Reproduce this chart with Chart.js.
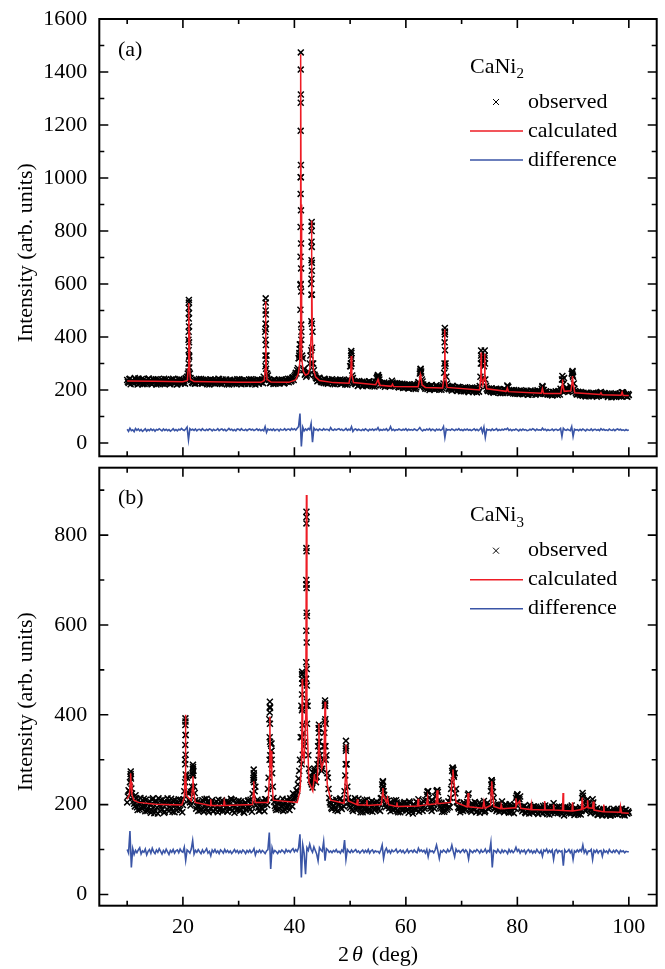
<!DOCTYPE html>
<html>
<head>
<meta charset="utf-8">
<script src="https://cdn.jsdelivr.net/npm/chart.js@4.4.1/dist/chart.umd.min.js"></script>
<style>
  body { margin: 0; background: #fff; }
  #wrap { position: relative; width: 665px; height: 969px; }
  canvas { position: absolute; left: 0; }
</style>
</head>
<body>
<div id="wrap">
  <canvas id="chartA" width="665" height="462" style="top:0"></canvas>
  <canvas id="chartB" width="665" height="507" style="top:462px"></canvas>
</div>
<script>
// scan grid shared by both patterns (2theta, deg); the *Mid arrays sit half a step later
const scanStart = 10;
const scanStep = 0.25;

// axis ticks
const xMajor = [20, 40, 60, 80, 100];
const xMinor = [10, 30, 50, 70, 90];
const yMajorA = [0, 200, 400, 600, 800, 1000, 1200, 1400, 1600];
const yMinorA = [100, 300, 500, 700, 900, 1100, 1300, 1500];
const yMajorB = [0, 200, 400, 600, 800];
const yMinorB = [100, 300, 500, 700, 900];

// ---- (a) CaNi2 ----
const obsA = [
  238,227,243,231, 236,224,240,229, 244,226,235,222, 240,231,225,242, 228,237,223,239,
  233,221,241,230, 226,239,232,222, 241,228,236,224, 231,243,225,234, 222,238,229,240,
  227,235,245,250, 390,262,238,226, 234,225,239,228, 231,242,224,235, 227,238,230,221,
  240,229,234,224, 237,226,241,230, 223,235,228,240, 232,221,238,227, 235,224,230,241,
  226,236,222,233, 239,228,234,223, 230,241,225,236, 221,233,227,238, 229,240,250,420,
  330,255,238,228, 234,223,237,229, 226,238,231,240, 233,227,240,235, 229,243,236,248,
  252,265,275,320, 372,420,320,280, 262,255,270,300, 600,420,275,252, 243,236,246,232,
  238,227,240,231, 224,237,229,241, 233,222,236,226, 230,240,224,235, 227,232,220,240,
  290,320,245,228, 222,233,218,229, 225,214,231,220, 228,217,232,223, 214,226,219,245,
  255,240,218,227, 221,212,226,215, 224,217,235,222, 226,214,221,210, 223,215,208,220,
  212,221,206,216, 209,219,213,204, 218,230,262,270, 232,214,205,217, 209,200,215,206,
  211,203,218,207, 201,214,208,225, 420,250,214,203, 210,198,213,204, 207,196,211,201,
  199,209,195,206, 202,192,208,198, 205,195,201,191, 207,215,330,245, 290,240,205,196,
  203,193,199,190, 197,204,192,200, 189,198,193,203, 198,214,196,190, 199,187,195,191,
  186,196,189,193, 184,194,188,197, 183,191,186,195, 190,182,193,186, 195,188,212,200,
  186,193,183,191, 187,179,192,184, 189,181,194,205, 240,222,195,205, 200,196,215,262,
  250,205,190,183, 191,180,187,178, 185,176,189,182, 180,188,177,186, 183,175,181,190,
  193,182,178,187, 181,174,185,179, 177,186,180,174, 183,176,181,192, 190,178,184,175,
  181
];
const obsAMid = [
  231,241,222,236, 228,245,233,221, 238,229,242,225, 223,236,230,244, 235,222,240,228,
  241,229,223,236, 232,224,243,230, 226,235,222,240, 237,228,234,221, 230,242,225,236,
  238,224,240,262, 330,245,229,236, 224,238,230,242, 237,226,239,229, 233,222,236,240,
  225,238,228,235, 231,243,224,237, 240,229,235,222, 226,239,231,236, 229,234,222,238,
  241,229,236,225, 224,237,228,240, 235,223,239,229, 232,240,224,235, 238,226,240,450,
  262,240,226,236, 229,241,224,233, 237,226,236,229, 225,238,231,243, 240,232,246,238,
  258,262,282,330, 600,330,275,258, 250,262,258,330, 650,300,258,246, 233,245,238,229,
  232,243,226,236, 240,228,234,223, 228,238,225,237, 236,223,238,229, 221,236,226,232,
  300,255,232,224, 229,215,234,222, 231,220,226,216, 221,233,219,228, 222,213,231,250,
  248,228,222,216, 228,217,224,219, 213,221,228,218, 218,226,212,224, 212,224,217,209,
  219,208,222,211, 214,205,221,210, 224,215,278,240, 221,210,218,204, 214,205,219,210,
  204,216,205,212, 210,201,216,265, 300,225,206,212, 203,216,205,211, 199,212,204,195,
  205,196,211,200, 195,206,199,210, 198,208,194,204, 194,250,300,240, 330,215,199,206,
  196,207,193,202, 205,194,203,189, 200,189,204,195, 191,212,189,199, 192,200,186,197,
  194,185,199,188, 197,186,193,182, 189,198,183,192, 196,186,199,188, 191,205,200,185,
  195,184,190,182, 183,193,186,195, 185,196,183,198, 201,245,205,196, 193,202,208,268,
  225,196,184,194, 185,193,181,190, 180,190,183,177, 186,179,190,182, 179,188,178,190,
  186,178,189,180, 187,178,183,173, 182,175,188,180, 178,187,176,192, 185,180,176,185
];
// extra observed points on the steep reflection flanks
const obsPeaksA = [
  [21.00,270],[21.02,300],[21.03,350],[21.04,420],[21.05,470],[21.06,510],[21.07,540],
  [21.08,530],[21.09,490],[21.10,440],[21.11,380],[21.12,325],[21.14,285],
  [34.80,290],[34.81,330],[34.82,390],[34.83,450],[34.84,500],[34.85,546],[34.86,530],
  [34.87,485],[34.88,430],[34.89,370],[34.90,315],[34.92,280],
  [40.85,320],[40.90,340],[40.95,355],[41.00,372],[41.06,372],[41.08,503],[41.09,597],
  [41.10,703],[41.11,815],[41.12,940],[41.12,1003],[41.13,1178],[41.14,1284],[41.14,1409],
  [41.15,1474],[41.16,1315],[41.17,1049],[41.17,1003],[41.18,878],[41.19,753],[41.20,659],
  [41.21,572],[41.22,447],[41.24,390],
  [43.02,350],[43.04,460],[43.05,560],[43.06,620],[43.07,690],[43.08,760],[43.09,800],
  [43.10,834],[43.11,820],[43.12,740],[43.13,680],[43.14,560],[43.15,450],[43.17,360],[43.20,300],
  [50.15,290],[50.18,330],[50.20,347],[50.23,340],[50.26,300],
  [54.90,250],[55.00,257],[55.20,248],
  [62.55,270],[62.65,280],[62.70,265],
  [66.92,300],[66.95,380],[66.97,420],[66.99,434],[67.01,410],[67.03,350],[67.06,290],
  [73.45,300],[73.50,349],[73.55,320],[74.10,320],[74.15,349],[74.20,300],
  [78.20,217],[84.50,215],
  [88.08,253],[88.12,240],[89.85,262],[89.90,272],[89.95,255]
];
const calcA = [
  [10,234],[15,233],[20,231.5],[20.8,236],[20.95,280],[21.02,420],[21.07,528],[21.12,420],
  [21.2,280],[21.35,240],[22,232],[30,229],[34,229],[34.6,236],[34.75,280],[34.8,420],
  [34.85,535],[34.9,420],[34.97,280],[35.1,240],[35.8,230],[39,229],[40.2,238],[40.7,260],
  [40.95,300],[41.05,420],[41.1,900],[41.15,1467],[41.2,900],[41.25,420],[41.35,320],
  [41.6,270],[42.0,256],[42.5,262],[42.8,285],[42.98,400],[43.05,700],[43.1,840],[43.15,700],
  [43.22,400],[43.4,280],[43.8,250],[44.5,236],[47,228],[49.8,226],[50.1,260],[50.2,328],
  [50.3,260],[50.6,228],[54.6,220],[54.9,235],[55.0,240],[55.1,232],[55.4,218],[57.4,214],
  [57.6,222],[57.8,213],[62.2,212],[62.5,245],[62.6,259],[62.7,250],[62.9,220],[63.5,210],
  [66.6,208],[66.9,260],[66.98,428],[67.06,260],[67.4,210],[73.2,200],[73.45,250],
  [73.5,342],[73.55,250],[73.8,220],[74.1,250],[74.15,338],[74.2,250],[74.5,205],[78.0,195],
  [78.2,207],[78.4,194],[84.3,188],[84.5,205],[84.7,187],[87.8,187],[88.05,220],[88.1,240],
  [88.15,222],[88.4,195],[89.6,197],[89.8,225],[89.9,253],[90.0,225],[90.3,190],[94.8,183],
  [95.0,190],[95.2,182],[98.6,180],[98.8,192],[99.0,179],[100,179]
];
const diffA = [
  52,44,56,47, 50,43,55,48, 53,46,51,44, 49,54,45,51, 47,53,48,52,
  45,51,49,54, 50,46,53,48, 52,47,51,45, 49,54,47,51, 46,52,49,55,
  50,47,53,60, 12,54,49,52, 48,53,46,51, 52,47,54,49, 47,52,48,53,
  51,46,52,48, 49,54,47,51, 53,48,52,46, 50,55,49,52, 47,51,46,53,
  52,48,54,49, 48,52,47,51, 53,49,52,47, 50,54,48,52, 47,51,46,62,
  40,53,49,52, 48,53,47,51, 52,46,53,49, 49,54,48,52, 53,48,55,50,
  54,49,56,62, 111,-13,60,46, 53,48,55,50, 74,3,56,49, 52,47,53,50,
  48,54,49,52, 51,47,58,50, 48,53,49,52, 54,49,52,47, 50,55,48,52,
  49,62,44,51, 53,48,52,49, 47,52,48,54, 50,46,52,49, 53,48,52,50,
  58,47,51,48, 52,49,54,47, 50,62,48,52, 47,51,49,53, 50,48,52,49,
  54,47,52,49, 51,48,53,50, 47,52,58,50, 46,51,48,53, 49,54,47,52,
  50,46,53,49, 52,48,51,62, 21,53,49,51, 48,53,50,47, 52,49,54,48,
  51,47,52,49, 53,48,51,47, 50,54,48,52, 47,51,58,40, 60,21,52,49,
  51,47,53,48, 50,54,47,51, 48,52,49,53, 51,56,48,52, 47,51,49,53,
  50,46,52,48, 53,49,51,47, 48,52,49,54, 51,47,53,49, 50,48,56,49,
  52,47,51,48, 49,53,47,51, 52,48,50,55, 25,56,50,48, 52,49,47,62,
  25,52,49,51, 47,52,48,53, 50,46,52,49, 48,53,47,51, 52,48,51,47,
  54,49,52,48, 50,47,53,49, 48,52,47,51, 53,49,52,48, 50,47,51,48,
  49
];

// ---- (b) CaNi3 ----
const obsB = [
  205,232,250,236, 215,202,221,194, 210,189,205,196, 213,185,202,192, 208,182,211,195,
  187,206,180,199, 210,189,203,184, 200,214,186,205, 191,209,183,201, 195,212,188,206,
  199,230,355,260, 225,205,228,270, 240,210,196,186, 205,190,210,184, 198,213,187,204,
  192,210,186,199, 207,183,201,192, 210,188,204,195, 184,206,191,211, 197,182,203,190,
  209,186,200,193, 182,205,196,210, 189,201,224,265, 240,205,193,187, 206,190,201,212,
  210,235,390,335, 270,215,197,188, 203,192,207,198, 186,205,193,209, 199,214,206,225,
  215,222,230,258, 300,420,470,330, 480,620,310,265, 250,238,270,265, 262,330,340,290,
  280,330,420,310, 260,215,200,190, 207,193,211,186, 200,214,190,205, 230,320,240,205,
  193,210,186,203, 209,195,213,190, 198,183,206,192, 211,187,200,195, 184,204,191,207,
  190,202,214,245, 230,200,212,208, 192,185,203,189, 200,210,186,197, 183,201,190,206,
  187,198,182,204, 193,180,199,188, 205,212,190,201, 186,197,210,222, 230,205,192,210,
  200,218,230,228, 205,192,184,198, 188,201,193,206, 215,250,278,270, 235,205,191,183,
  198,186,202,190, 206,225,192,184, 199,188,203,185, 196,182,200,190, 208,186,197,191,
  200,230,250,215, 193,186,201,184, 196,207,189,185, 199,190,182,197, 187,194,200,215,
  222,205,218,195, 188,197,181,193, 185,199,190,182, 196,184,191,179, 193,186,180,194,
  198,183,191,178, 187,195,203,182, 190,181,196,184, 179,193,186,183, 194,181,189,198,
  184,177,192,183, 180,194,186,220, 195,186,210,200, 188,198,212,186, 181,192,177,189,
  184,176,190,181, 187,178,184,176, 183,191,179,186, 178,189,181,191, 184,176,188,180,
  182
];
const obsBMid = [
  218,230,268,225, 208,196,214,188, 202,215,191,208, 195,211,186,204, 199,188,214,181,
  209,193,214,186, 197,211,182,205, 190,206,194,213, 184,199,210,188, 204,192,211,183,
  212,300,265,228, 210,198,240,275, 226,191,207,196, 187,203,192,212, 191,206,183,199,
  205,185,203,190, 196,211,187,204, 185,200,193,208, 203,190,213,186, 210,195,188,206,
  189,207,195,184, 203,189,208,193, 211,184,255,230, 198,211,186,202, 193,207,185,212,
  199,260,415,320, 240,206,192,210, 189,205,196,213, 200,188,211,195, 188,207,196,211,
  218,232,245,275, 350,490,360,340, 700,420,280,255, 245,255,275,250, 290,370,310,275,
  300,360,380,270, 235,205,193,210, 197,188,206,199, 212,193,208,196, 265,290,215,198,
  206,190,199,214, 188,204,197,183, 206,192,210,186, 194,205,186,208, 197,188,203,196,
  203,186,215,250, 222,194,208,198, 204,195,188,209, 191,205,183,202, 196,187,203,192,
  203,189,207,193, 186,201,191,207, 196,184,202,193, 208,191,203,228, 215,196,186,202,
  191,207,232,210, 196,204,191,184, 200,189,207,194, 235,282,262,225, 206,194,202,188,
  191,205,188,197, 222,198,187,203, 192,206,183,196, 204,191,186,199, 183,195,204,190,
  193,254,228,190, 200,190,195,188, 189,196,183,201, 192,186,201,183, 196,181,192,220,
  215,212,190,185, 196,183,192,187, 180,193,184,196, 188,195,182,190, 183,192,197,184,
  190,179,195,186, 182,193,185,191, 195,185,189,182, 188,176,195,184, 185,192,180,187,
  190,181,189,178, 186,178,215,205, 188,197,212,193, 181,190,205,183, 190,178,186,181,
  179,188,183,177, 190,181,176,186, 178,185,180,188, 186,180,190,177, 179,188,181,185
];
const obsPeaksB = [
  [10.60,262],[10.64,274],[10.68,258],
  [20.40,250],[20.42,290],[20.43,333],[20.44,377],[20.45,392],[20.46,385],[20.47,355],
  [20.48,311],[20.50,267],
  [21.75,265],[21.78,280],[21.80,289],[21.82,284],[21.85,265],
  [32.68,260],[32.70,278],[32.72,270],[32.75,250],
  [35.55,300],[35.57,350],[35.58,405],[35.60,429],[35.61,418],[35.62,380],[35.64,340],
  [35.66,310],[35.85,290],[35.88,320],[35.90,336],[35.93,300],
  [41.30,290],[41.33,350],[41.35,410],[41.37,445],[41.39,480],[41.40,496],[41.41,490],
  [41.43,470],[41.45,414],[41.47,377],[41.50,311],
  [42.10,420],[42.11,480],[42.12,517],[42.13,587],[42.14,690],[42.15,771],[42.16,852],
  [42.16,826],[42.17,840],[42.18,764],[42.18,690],[42.19,682],[42.20,627],[42.21,561],
  [42.22,502],[42.23,465],[42.25,429],[42.27,380],
  [43.55,260],[43.60,280],[43.65,262],
  [44.33,300],[44.36,340],[44.39,370],[44.40,378],[44.42,360],[44.45,320],
  [45.43,330],[45.46,385],[45.49,420],[45.50,432],[45.52,425],[45.55,390],[45.58,330],[45.62,300],
  [49.20,290],[49.23,325],[49.25,342],[49.27,330],[49.30,290],
  [55.83,235],[55.87,252],[55.90,240],
  [63.95,230],[65.60,232],
  [68.30,275],[68.40,282],[68.50,278],[68.60,265],
  [75.35,245],[75.40,254],[75.45,240],
  [80.00,223],[91.70,226]
];
const calcB = [
  [10,212],[10.4,222],[10.55,250],[10.62,270],[10.7,250],[10.85,222],[11.2,210],[12,205],
  [15,201],[19.8,199],[20.25,215],[20.38,270],[20.45,400],[20.52,270],[20.65,220],[21.5,208],
  [21.7,235],[21.8,263],[21.9,235],[22.2,205],[24.9,198],[25.0,212],[25.1,198],[27.3,198],
  [27.4,207],[27.5,198],[32.5,200],[32.65,230],[32.7,252],[32.75,230],[33,205],[35.3,205],
  [35.5,260],[35.6,396],[35.68,300],[35.8,280],[35.88,320],[35.95,260],[36.2,210],[40.5,205],
  [41.0,230],[41.3,300],[41.4,480],[41.48,320],[41.75,300],[42.05,400],[42.16,889],[42.25,400],
  [42.6,250],[43.3,230],[43.5,255],[43.6,268],[43.7,255],[44.1,250],[44.35,330],[44.4,381],
  [44.47,320],[44.9,280],[45.3,300],[45.5,429],[45.6,320],[45.9,245],[46.5,210],[48.9,203],
  [49.15,260],[49.25,334],[49.35,260],[49.7,208],[51.2,200],[51.3,212],[51.4,199],[52.9,199],
  [53.0,210],[53.1,198],[55.6,200],[55.8,225],[55.87,237],[55.95,222],[56.5,205],[56.7,215],
  [56.9,200],[58.3,196],[58.4,205],[58.5,196],[62.1,197],[62.2,213],[62.3,197],[63.7,200],
  [63.9,216],[64.0,200],[65.4,202],[65.6,232],[65.75,202],[68.0,205],[68.3,260],[68.45,278],
  [68.6,255],[69.0,205],[71.0,195],[71.15,226],[71.3,195],[73.8,192],[74.0,207],[74.2,192],
  [75.2,198],[75.35,240],[75.4,252],[75.5,235],[75.8,196],[77.0,191],[77.1,200],[77.3,191],
  [79.6,193],[79.75,214],[79.9,200],[80.4,208],[80.6,192],[82.4,189],[82.5,200],[82.6,189],
  [84.8,188],[84.9,208],[85.0,188],[86.4,188],[86.5,200],[86.6,188],[88.1,187],[88.2,226],
  [88.3,187],[89.8,186],[89.9,205],[90.0,186],[91.5,189],[91.65,216],[91.8,190],[92.5,195],
  [92.6,210],[92.7,193],[93.5,192],[93.6,207],[93.75,188],[95.4,184],[95.5,200],[95.6,184],
  [98.4,183],[98.5,196],[98.7,182],[100,181]
];
const diffB = [
  100,92,141,60, 102,89,98,93, 99,104,90,97, 94,101,88,96, 100,92,103,95,
  91,99,94,102, 96,90,98,93, 101,95,89,98, 94,100,92,97, 99,93,101,96,
  94,105,76,99, 96,92,101,120, 90,98,94,100, 95,91,99,93, 97,102,92,96,
  86,99,94,100, 93,97,91,99, 96,92,100,94, 98,93,97,91, 95,100,94,98,
  92,97,93,99, 96,91,98,94, 99,93,96,102, 88,97,94,99, 93,98,95,91,
  97,100,138,57, 104,93,98,95, 91,97,94,99, 96,92,100,95, 98,94,99,102,
  95,100,96,104, 134,38,110,92, 45,104,98,112, 100,94,106,98, 90,75,104,99,
  96,118,75,102, 99,94,97,93, 98,95,100,94, 96,92,99,95, 121,78,100,96,
  93,99,94,97, 100,94,97,92, 96,99,93,98, 94,100,92,97, 99,93,97,95,
  96,92,99,110, 80,97,103,94, 98,92,99,95, 97,101,93,96, 99,94,98,92,
  95,100,93,97, 98,94,99,95, 93,103,96,99, 95,98,92,100, 84,99,95,97,
  93,99,110,96, 80,97,94,99, 96,93,100,95, 98,110,96,84, 101,95,98,93,
  97,100,94,99, 95,79,99,96, 93,98,95,100, 97,92,99,94, 96,101,93,98,
  95,116,60,98, 97,93,100,95, 92,99,94,98, 96,91,100,94, 98,93,97,105,
  96,100,92,98, 95,99,91,97, 100,94,98,92, 97,93,100,95, 92,98,85,99,
  96,101,93,98, 94,99,78,97, 100,93,98,95, 97,64,99,94, 96,100,93,98,
  78,97,94,99, 95,100,96,110, 93,99,90,97, 96,100,78,98, 94,99,92,97,
  98,85,99,94, 97,92,100,95, 93,98,94,99, 96,91,98,95, 97,93,96,95,
  95
];

const SERIF = '"Liberation Serif", "Times New Roman", serif';
const RED = '#ee1c25';
const BLUE = '#3a55a6';

Chart.defaults.font.family = SERIF;
Chart.defaults.font.size = 22;
Chart.defaults.color = '#000';

const gridPoints = (vals, offset = 0) =>
  vals.map((v, i) => ({ x: scanStart + offset + i * scanStep, y: v }));
const pairPoints = list => list.map(([x, y]) => ({ x, y }));

function drawCross(ctx, x, y, r) {
  ctx.beginPath();
  ctx.moveTo(x - r, y - r); ctx.lineTo(x + r, y + r);
  ctx.moveTo(x + r, y - r); ctx.lineTo(x - r, y + r);
  ctx.stroke();
}

// frame, inward ticks, titles, panel letter and legend
const panelDecor = {
  id: 'panelDecor',
  afterDraw(chart, args, opts) {
    const { ctx, chartArea: a } = chart;
    const xs = chart.scales.x;
    const ys = chart.scales.y;
    ctx.save();

    ctx.strokeStyle = '#000';
    ctx.lineWidth = 1.6;
    ctx.beginPath();
    const xTick = (v, len) => {
      const px = xs.getPixelForValue(v);
      ctx.moveTo(px, a.bottom); ctx.lineTo(px, a.bottom - len);
      ctx.moveTo(px, a.top); ctx.lineTo(px, a.top + len);
    };
    const yTick = (v, len) => {
      const py = ys.getPixelForValue(v);
      ctx.moveTo(a.left, py); ctx.lineTo(a.left + len, py);
      ctx.moveTo(a.right, py); ctx.lineTo(a.right - len, py);
    };
    xMajor.forEach(v => xTick(v, 9));
    xMinor.forEach(v => xTick(v, 5));
    opts.yMajor.forEach(v => yTick(v, 9));
    opts.yMinor.forEach(v => yTick(v, 5));
    ctx.stroke();

    ctx.lineWidth = 2;
    ctx.strokeRect(a.left, a.top, a.right - a.left, a.bottom - a.top);

    ctx.fillStyle = '#000';
    ctx.font = '22px ' + SERIF;
    ctx.textBaseline = 'middle';

    // y title
    ctx.save();
    ctx.translate(26, (a.top + a.bottom) / 2 + 15);
    ctx.rotate(-Math.PI / 2);
    ctx.textAlign = 'center';
    ctx.fillText('Intensity (arb. units)', 0, 0);
    ctx.restore();

    // panel letter
    ctx.textAlign = 'left';
    ctx.fillText(opts.letter, 118, a.top + 31);

    // legend
    const lx = 470, mx = 496, tx = 528;
    ctx.fillText(opts.formula, lx, a.top + 48);
    const fw = ctx.measureText(opts.formula).width;
    ctx.font = '15px ' + SERIF;
    ctx.fillText(opts.sub, lx + fw, a.top + 55);
    ctx.font = '22px ' + SERIF;

    const sets = chart.data.datasets;
    const obs = sets.find(d => d.label === 'observed');
    const calc = sets.find(d => d.label === 'calculated');
    const diff = sets.find(d => d.label === 'difference');

    ctx.strokeStyle = obs.borderColor;
    ctx.lineWidth = 1;
    drawCross(ctx, mx, a.top + 83, 3);
    ctx.fillText(obs.label, tx, a.top + 83);

    [[calc, a.top + 112], [diff, a.top + 141]].forEach(([d, y]) => {
      ctx.strokeStyle = d.borderColor;
      ctx.lineWidth = 1.6;
      ctx.beginPath();
      ctx.moveTo(lx, y); ctx.lineTo(lx + 53, y);
      ctx.stroke();
      ctx.fillText(d.label, tx, y);
    });

    // x title (bottom panel only)
    if (opts.xTitle) {
      const y = a.bottom + 50;
      const parts = [['2', '22px ' + SERIF, 3], ['\u03B8', 'italic 22px ' + SERIF, 9], ['(deg)', '22px ' + SERIF, 0]];
      let total = 0;
      parts.forEach(([t, f, gap]) => { ctx.font = f; total += ctx.measureText(t).width + gap; });
      let x = (a.left + a.right) / 2 - total / 2;
      parts.forEach(([t, f, gap]) => {
        ctx.font = f;
        ctx.fillText(t, x, y);
        x += ctx.measureText(t).width + gap;
      });
    }
    ctx.restore();
  }
};

function makeDatasets(cfg) {
  return [
    {
      label: 'calculated',
      data: pairPoints(cfg.calc),
      showLine: true,
      borderColor: RED,
      borderWidth: 1.5,
      pointRadius: 0,
      order: 0
    },
    {
      label: 'difference',
      data: gridPoints(cfg.diff),
      showLine: true,
      borderColor: BLUE,
      borderWidth: 1.6,
      pointRadius: 0,
      order: 1
    },
    {
      label: 'observed',
      data: gridPoints(cfg.obs)
        .concat(gridPoints(cfg.obsMid, scanStep / 2))
        .concat(pairPoints(cfg.peaks)),
      showLine: false,
      pointStyle: 'crossRot',
      pointRadius: 4.2,
      borderColor: '#000',
      borderWidth: 1.5,
      order: 2
    }
  ];
}

// keep the plot area exactly where the padding puts it
const noScalePadding = s => {
  s.paddingTop = 0; s.paddingBottom = 0; s.paddingLeft = 0; s.paddingRight = 0;
};

function makeChart(id, cfg) {
  return new Chart(document.getElementById(id), {
    type: 'scatter',
    data: { datasets: makeDatasets(cfg) },
    options: {
      responsive: false,
      animation: false,
      events: [],
      layout: { padding: cfg.padding },
      plugins: {
        legend: { display: false },
        tooltip: { enabled: false },
        panelDecor: cfg.decor
      },
      scales: {
        x: {
          type: 'linear',
          min: 5,
          max: 105,
          grid: { display: false, drawTicks: false },
          border: { display: false },
          ticks: { display: cfg.xLabels, padding: 8, maxRotation: 0 },
          afterBuildTicks: s => { s.ticks = xMajor.map(v => ({ value: v })); },
          afterFit: s => { s.height = cfg.xHeight; noScalePadding(s); }
        },
        y: {
          type: 'linear',
          min: cfg.yMin,
          max: cfg.yMax,
          grid: { display: false, drawTicks: false },
          border: { display: false },
          ticks: { padding: 12, callback: v => String(v) },
          afterBuildTicks: s => { s.ticks = cfg.decor.yMajor.map(v => ({ value: v })); },
          afterFit: s => { s.width = 99.3; noScalePadding(s); }
        }
      }
    },
    plugins: [panelDecor]
  });
}

makeChart('chartA', {
  obs: obsA, obsMid: obsAMid, peaks: obsPeaksA, calc: calcA, diff: diffA,
  yMin: -50, yMax: 1600,
  padding: { top: 19, right: 8.3, bottom: 2.7, left: 0 },
  xLabels: false, xHeight: 0,
  decor: { letter: '(a)', formula: 'CaNi', sub: '2', yMajor: yMajorA, yMinor: yMinorA, xTitle: false }
});

makeChart('chartB', {
  obs: obsB, obsMid: obsBMid, peaks: obsPeaksB, calc: calcB, diff: diffB,
  yMin: -25, yMax: 950,
  padding: { top: 3, right: 8.3, bottom: 0, left: 0 },
  xLabels: true, xHeight: 63.3,
  decor: { letter: '(b)', formula: 'CaNi', sub: '3', yMajor: yMajorB, yMinor: yMinorB, xTitle: true }
});
</script>
</body>
</html>
